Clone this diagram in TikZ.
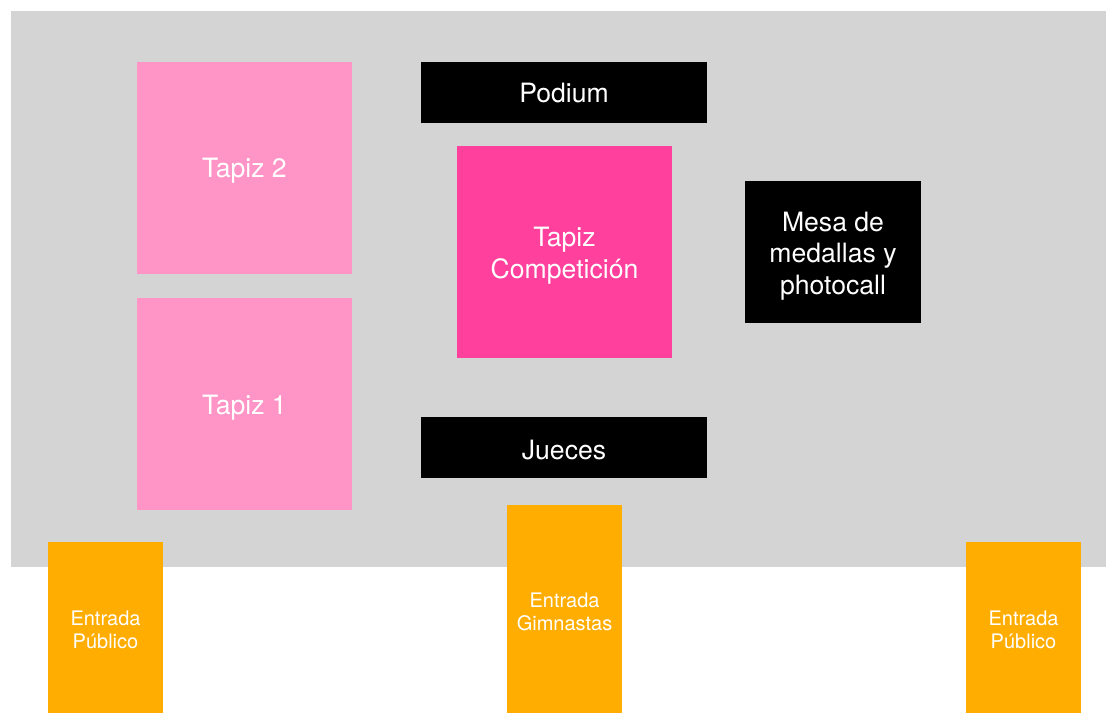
\documentclass[tikz,border=0pt]{standalone}
\usepackage{fontspec}
\setmainfont{TeX Gyre Heros}
\definecolor{floorgray}{HTML}{D4D4D4}
\definecolor{lightpink}{HTML}{FF95C6}
\definecolor{hotpink}{HTML}{FF409C}
\definecolor{entryorange}{HTML}{FFAD00}
\tikzset{
  x=0.5pt,y=-0.5pt,
  zone/.style={anchor=north west,inner sep=0pt,outer sep=0pt},
  zonetext/.style={inner sep=0pt,outer sep=0pt,align=center,text=white},
  big/.style={zonetext,font=\fontsize{13.3pt}{15.9pt}\selectfont},
  small/.style={zonetext,font=\fontsize{10pt}{11.6pt}\selectfont},
}
\newcommand{\boxnode}[8]{%
  \node[zone,fill=#3,minimum width=#6*0.5pt,minimum height=#7*0.5pt] (#1) at (#4,#5) {};
  \node[#2] (#1-text) at ([yshift=-1.25pt]#1.center) {#8};}
\begin{document}
\begin{tikzpicture}
\useasboundingbox (0,0) rectangle (1106,713);
\fill[white] (0,0) rectangle (1106,713);
\node[zone,fill=floorgray,minimum width=547.5pt,minimum height=278pt] (floor) at (11,11) {};
\boxnode{tapizb}{big}{lightpink}{137}{62}{215}{212}{Tapiz 2}
\boxnode{tapiza}{big,yshift=-0.5pt}{lightpink}{137}{298}{215}{212}{Tapiz 1}
\boxnode{podium}{big,yshift=1pt}{black}{421}{62}{286}{61}{Podium}
\boxnode{tapizc}{big,yshift=-0.5pt}{hotpink}{457}{146}{215}{212}{Tapiz\\Competición}
\boxnode{mesa}{big,yshift=-0.75pt}{black}{745}{181}{176}{142}{Mesa de\\medallas y\\photocall}
\boxnode{jueces}{big}{black}{421}{417}{286}{61}{Jueces}
\boxnode{ea}{small}{entryorange}{48}{542}{115}{171}{Entrada\\Público}
\boxnode{eb}{small}{entryorange}{507}{505}{115}{208}{Entrada\\Gimnastas}
\boxnode{ec}{small}{entryorange}{966}{542}{115}{171}{Entrada\\Público}
\end{tikzpicture}
\end{document}
